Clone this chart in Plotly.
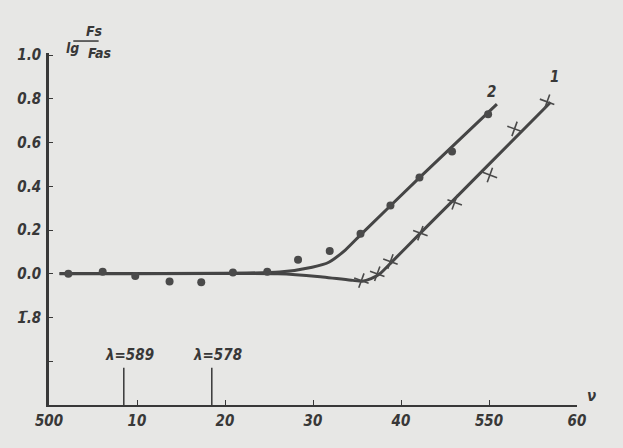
import plotly.graph_objects as go

# ---- data ----
circ_x = [502.2, 506.1, 509.8, 513.7, 517.3, 520.9, 524.8, 528.3, 531.9, 535.4, 538.8, 542.1, 545.8, 549.9]
circ_y = [0.0, 0.01, -0.01, -0.035, -0.038, 0.006, 0.01, 0.064, 0.104, 0.183, 0.312, 0.44, 0.56, 0.73]

cross_x = [535.5, 537.3, 538.8, 542.2, 546.1, 550.1, 552.9, 556.6]
cross_y = [-0.031, 0.0, 0.056, 0.186, 0.327, 0.452, 0.663, 0.787]

curve2_x = [501.2, 526.2, 529.9, 531.8, 533.7, 535.4, 542.1, 550.9]
curve2_y = [0.002, 0.008, 0.03, 0.053, 0.11, 0.178, 0.44, 0.776]

curve1_x = [501.2, 526.0, 530.5, 534.5, 535.6, 536.6, 537.6, 538.8, 542.2, 546.1, 550.1, 557.0]
curve1_y = [0.0, 0.0, -0.012, -0.03, -0.034, -0.022, 0.0, 0.048, 0.186, 0.343, 0.505, 0.785]

lambda_x = [508.5, 518.5]
lambda_labels = ["λ=589", "λ=578"]
lambda_top = -0.43

x_tickvals = [500, 510, 520, 530, 540, 550, 560]
x_ticktext = ["500", "10", "20", "30", "40", "550", "60"]
y_tickvals = [1.0, 0.8, 0.6, 0.4, 0.2, 0.0, -0.2, -0.4]
y_ticktext = ["1.0", "0.8", "0.6", "0.4", "0.2", "0.0", "1\u0304.8", ""]

curve_labels = [("2", 550.3, 0.83), ("1", 557.4, 0.90)]

# ---- styling ----
INK = "#383838"
BG = "#e7e7e5"
FONT = "DejaVu Sans Condensed, DejaVu Sans, Liberation Sans Narrow, sans-serif"
x_min, x_max = 500, 560
y_min, y_max = -0.6, 1.01

def tfont(size=15):
    return dict(family=FONT, size=size, color=INK, style="italic", weight="bold")

fig = go.Figure()

fig.add_trace(go.Scatter(x=curve2_x, y=curve2_y, mode="lines",
                         line=dict(color="#454545", width=3, shape="spline", smoothing=0.6),
                         hoverinfo="skip", showlegend=False))
fig.add_trace(go.Scatter(x=curve1_x, y=curve1_y, mode="lines",
                         line=dict(color="#454545", width=3, shape="spline", smoothing=0.5),
                         hoverinfo="skip", showlegend=False))
fig.add_trace(go.Scatter(x=circ_x, y=circ_y, mode="markers",
                         marker=dict(symbol="circle", size=8, color="#4a4a4a"),
                         showlegend=False))
fig.add_trace(go.Scatter(x=cross_x, y=cross_y, mode="markers",
                         marker=dict(symbol="cross-thin", size=11, angle=20,
                                     line=dict(color="#4a4a4a", width=1.6)),
                         showlegend=False))

for lx in lambda_x:
    fig.add_trace(go.Scatter(x=[lx, lx], y=[y_min, lambda_top], mode="lines",
                             line=dict(color=INK, width=1.5),
                             hoverinfo="skip", showlegend=False))

for lx, lt in zip(lambda_x, lambda_labels):
    fig.add_annotation(x=lx + 0.6, y=-0.37, text=lt, showarrow=False, font=tfont(15))

for t, cx, cy in curve_labels:
    fig.add_annotation(x=cx, y=cy, text=t, showarrow=False, font=tfont(15))

# y-axis title lg Fs/Fas
fig.add_annotation(xref="paper", yref="paper", x=0.028, y=1.014, yanchor="middle",
                   text="lg", showarrow=False, font=tfont(14))
fig.add_annotation(xref="paper", yref="paper", x=0.066, y=1.062, yanchor="middle",
                   text="Fs", showarrow=False, font=tfont(14))
fig.add_annotation(xref="paper", yref="paper", x=0.07, y=1.0, yanchor="middle",
                   text="Fas", showarrow=False, font=tfont(14))
fig.add_shape(type="line", xref="paper", yref="paper", x0=0.046, x1=0.094, y0=1.034, y1=1.034,
              line=dict(color=INK, width=1.5))

fig.update_layout(
    width=623, height=448,
    margin=dict(l=49, r=46, t=53, b=43),
    paper_bgcolor=BG, plot_bgcolor=BG,
    font=tfont(15),
    xaxis=dict(range=[x_min, x_max], tickvals=x_tickvals, ticktext=x_ticktext,
               ticks="inside", ticklen=5, tickcolor=INK, tickwidth=1.2,
               ticklabelstandoff=1,
               showline=True, linecolor=INK, linewidth=2, showgrid=False, zeroline=False,
               tickfont=tfont(15)),
    yaxis=dict(range=[y_min, y_max], tickvals=y_tickvals, ticktext=y_ticktext,
               ticks="inside", ticklen=4, tickcolor=INK, tickwidth=1.2,
               ticklabelstandoff=2,
               showline=True, linecolor=INK, linewidth=2.5, showgrid=False, zeroline=False,
               tickfont=tfont(15)),
)

fig.add_annotation(xref="paper", yref="paper", x=1.0, y=0.0, xanchor="left", yanchor="bottom",
                   xshift=8, yshift=-2, text="ν", showarrow=False,
                   font=dict(family=FONT, size=15, color=INK, weight="bold"))

fig.write_html("out.html", config={"displayModeBar": False},
               post_script="document.body.style.margin='0';document.body.style.background='%s';" % BG)
